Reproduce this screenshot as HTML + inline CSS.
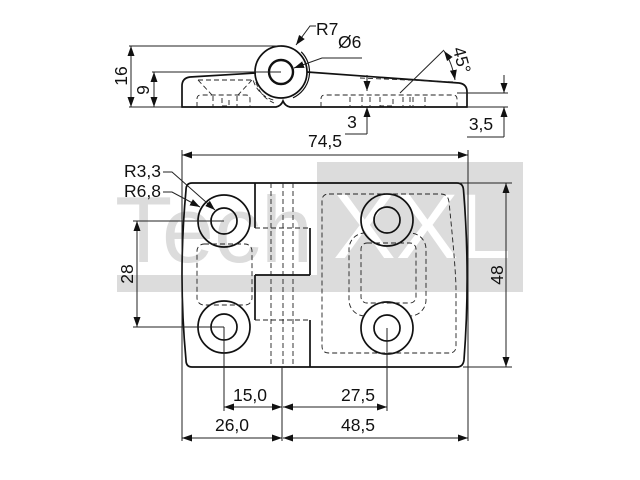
<!DOCTYPE html>
<html><head><meta charset="utf-8"><style>
html,body{margin:0;padding:0;background:#fff;overflow:hidden}
svg{display:block;font-family:"Liberation Sans",Arial,sans-serif}
</style></head><body>
<svg width="640" height="480" viewBox="0 0 640 480" xmlns="http://www.w3.org/2000/svg">
<defs>
<marker id="a" viewBox="0 0 10 7" refX="10" refY="3.5" markerWidth="10" markerHeight="7" markerUnits="userSpaceOnUse" orient="auto-start-reverse"><path d="M0,0L10,3.5L0,7z" fill="#111"/></marker>
<mask id="m"><rect width="640" height="480" fill="#fff"/><circle cx="387" cy="220" r="26" fill="#000"/><circle cx="387" cy="328" r="26" fill="#000"/></mask>
</defs>

<!-- watermark -->
<rect x="317" y="162" width="206" height="130" fill="#dcdcdc"/>
<rect x="117" y="275" width="200" height="17" fill="#dcdcdc"/>
<text x="115" y="262" font-size="94" textLength="198" lengthAdjust="spacingAndGlyphs" fill="#dcdcdc">Tech</text>
<text x="333" y="258" font-size="92" textLength="178" lengthAdjust="spacingAndGlyphs" fill="#fff">XXL</text>

<!-- ===== TOP VIEW ===== -->
<g fill="none" stroke="#111" stroke-width="1.7">
<path d="M256,73 L190,77 Q182,78 182,86 L182,107 L276,107 Q281,106 283,101 Q285,106 290,107 L467,107 L467,92 Q467,84 459,83 L307,72"/>
<circle cx="281" cy="72" r="26"/>
<circle cx="281" cy="72" r="12" stroke-width="2.4"/>
<path d="M301.2,51.8 A28.5,28.5 0 0 1 293,97.8" stroke-width="1.2"/>
</g>
<g fill="none" stroke="#222" stroke-width="0.9" stroke-dasharray="5,3">
<path d="M198,80 L252,80"/>
<path d="M198,80 L212,95 M252,80 L238,95"/>
<path d="M197,107 L197,99 Q197,95 201,95 L246,95 Q250,95 250,99 L250,107"/>
<path d="M213,96 L213,107 M237,96 L237,107 M222,98 L222,106 L229,106 L229,98"/>
<path d="M253.3,80.5 A29,29 0 0 0 276,100.6"/>
<path d="M256,82 A31,31 0 0 0 274,103"/>
<path d="M360,78 L456,82"/>
<path d="M321,107 L321,99 Q321,95 325,95 L453,95 Q457,95 457,99 L457,107"/>
<path d="M350,97 L350,106 M362,97 L362,106 M370,97 L370,106 M380,97 L380,106 L393,106 L393,97 M403,97 L403,106 M410,97 L410,106 M413,97 L413,106 M425,97 L425,106"/>
</g>

<!-- top view dims -->
<g fill="none" stroke="#222" stroke-width="1">
<path d="M129,46 L281,46"/>
<path d="M129,107 L182,107"/>
<path d="M152,72 L281,72"/>
<path d="M131,46 L131,107" marker-start="url(#a)" marker-end="url(#a)"/>
<path d="M154,72 L154,107" marker-start="url(#a)" marker-end="url(#a)"/>
<path d="M316,26 L310,26 L296,45" marker-end="url(#a)"/>
<path d="M362,58 L322,58 L294,68" marker-end="url(#a)"/>
<path d="M400,93 L444,50"/>
<path d="M455,80 Q452,62 444,51" marker-start="url(#a)" marker-end="url(#a)"/>
<path d="M367,75 L367,91" marker-end="url(#a)"/>
<path d="M367,134 L367,107" marker-end="url(#a)"/>
<path d="M345,134 L367,134"/>
<path d="M457,93 L508,93"/>
<path d="M467,107 L508,107"/>
<path d="M504,75 L504,93" marker-end="url(#a)"/>
<path d="M504,137 L504,107" marker-end="url(#a)"/>
<path d="M467,137 L504,137"/>
</g>
<g font-size="17.5" fill="#111">
<text transform="translate(127,76) rotate(-90)" text-anchor="middle">16</text>
<text transform="translate(149,90) rotate(-90)" text-anchor="middle">9</text>
<text x="316" y="35">R7</text>
<text x="338" y="48">Ø6</text>
<text x="352" y="128" text-anchor="middle">3</text>
<text x="481" y="130" text-anchor="middle">3,5</text>
<text transform="translate(462,60) rotate(75)" text-anchor="middle" dy=".35em">45°</text>
</g>

<!-- ===== FRONT VIEW ===== -->
<g fill="none" stroke="#111" stroke-width="1.7">
<path d="M192,183 L457,183 Q463,183 463.5,190 Q470.5,275 464,360 Q463,367 457,367 L192,367 Q186,367 186,360 Q178,275 186,190 Q186,183 192,183 Z"/>
<circle cx="224" cy="221" r="26"/><circle cx="224" cy="221" r="13"/>
<circle cx="224" cy="327" r="26"/><circle cx="224" cy="327" r="13"/>
<circle cx="387" cy="220" r="26"/><circle cx="387" cy="220" r="13"/>
<circle cx="387" cy="328" r="26"/><circle cx="387" cy="328" r="13"/>
<path d="M255,183 L255,228 M255,275 L255,320 M310,228 L310,275 M310,320 L310,367 M255,275 L310,275"/>
</g>
<g fill="none" stroke="#222" stroke-width="0.9" stroke-dasharray="5,3">
<path d="M255,228 L310,228 M255,320 L310,320"/>
<path d="M271,183 L271,367 M283,183 L283,367 M293,183 L293,367"/>
<rect x="197" y="244" width="55" height="61" rx="7"/>
<path d="M329,194 L441,194 Q448,194 449,202 Q456,270 456,290 L456,346 Q456,353 449,353 L329,353 Q322,353 322,346 L322,201 Q322,194 329,194 Z"/>
<rect x="349" y="233" width="77" height="83" rx="16" mask="url(#m)"/>
<rect x="361" y="243" width="55" height="60" rx="6"/>
</g>

<!-- front dims -->
<g fill="none" stroke="#222" stroke-width="1">
<path d="M182,150 L182,441 M468,150 L468,441"/>
<path d="M182,155 L468,155" marker-start="url(#a)" marker-end="url(#a)"/>
<path d="M460,183 L512,183 M463,367 L512,367"/>
<path d="M506,183 L506,367" marker-start="url(#a)" marker-end="url(#a)"/>
<path d="M133,221 L224,221 M133,327 L224,327"/>
<path d="M137,221 L137,327" marker-start="url(#a)" marker-end="url(#a)"/>
<path d="M163,172 L172,172 L215,210" marker-end="url(#a)"/>
<path d="M163,192 L172,192 L200,207" marker-end="url(#a)"/>
<path d="M224,327 L224,411 M387,328 L387,411 M282,367 L282,441"/>
<path d="M224,407 L282,407" marker-start="url(#a)" marker-end="url(#a)"/>
<path d="M283,407 L387,407" marker-start="url(#a)" marker-end="url(#a)"/>
<path d="M182,438 L282,438" marker-start="url(#a)" marker-end="url(#a)"/>
<path d="M283,438 L468,438" marker-start="url(#a)" marker-end="url(#a)"/>
</g>
<g font-size="17.5" fill="#111">
<text x="325" y="147" text-anchor="middle">74,5</text>
<text transform="translate(503,275) rotate(-90)" text-anchor="middle">48</text>
<text transform="translate(133,274) rotate(-90)" text-anchor="middle">28</text>
<text x="124" y="177">R3,3</text>
<text x="124" y="197">R6,8</text>
<text x="250" y="401" text-anchor="middle">15,0</text>
<text x="358" y="401" text-anchor="middle">27,5</text>
<text x="232" y="431" text-anchor="middle">26,0</text>
<text x="358" y="431" text-anchor="middle">48,5</text>
</g>
</svg>
</body></html>
